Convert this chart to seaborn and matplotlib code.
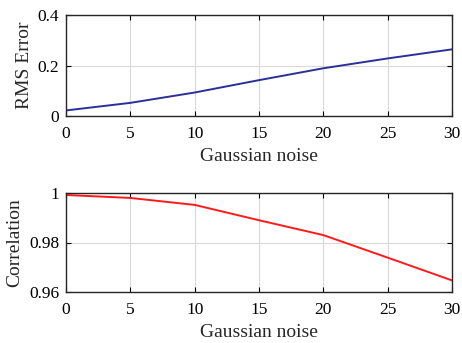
import matplotlib
matplotlib.use("Agg")
import matplotlib.pyplot as plt
import seaborn as sns
import pandas as pd

noise = [0, 5, 10, 15, 20, 25, 30]
rms_error = [0.022, 0.052, 0.093, 0.142, 0.189, 0.228, 0.264]
correlation = [0.9992, 0.998, 0.9952, 0.989, 0.983, 0.9739, 0.9647]

sns.set_theme(style="white")
plt.rcParams['font.family'] = ['Liberation Serif', 'DejaVu Serif']

df = pd.DataFrame({"noise": noise, "rms": rms_error, "corr": correlation})

fig = plt.figure(figsize=(4.62, 3.43), dpi=100)
ax1 = fig.add_axes([66/462, 1-116/343, (452-66)/462, (116-15)/343])
ax2 = fig.add_axes([66/462, 1-292/343, (452-66)/462, (292-193)/343])

sns.lineplot(data=df, x="noise", y="rms", ax=ax1, color="#2b2f9a", linewidth=1.4)
sns.lineplot(data=df, x="noise", y="corr", ax=ax2, color="#ff1a1a", linewidth=1.4)

for ax, ylab, ylim, yt, ytl, lp in [
    (ax1, "RMS Error", (0, 0.4), [0, 0.2, 0.4], ["0", "0.2", "0.4"], 3),
    (ax2, "Correlation", (0.96, 1.0), [0.96, 0.98, 1.0], ["0.96", "0.98", "1"], 4),
]:
    ax.set_xlim(0, 30)
    ax.set_ylim(*ylim)
    ax.set_xticks(noise)
    ax.set_xticklabels([str(v) for v in noise])
    ax.set_yticks(yt)
    ax.set_yticklabels(ytl)
    ax.set_xlabel("Gaussian noise", fontsize=14, labelpad=4.5)
    ax.set_ylabel(ylab, fontsize=14, labelpad=lp)
    ax.grid(True, color="#d9d9d9", linewidth=0.8)
    ax.tick_params(axis="x", pad=7)
    ax.tick_params(axis="y", pad=5)
    ax.tick_params(direction="in", length=3.5, width=0.8, labelsize=12.5, colors="black",
                   top=True, right=True, bottom=True, left=True)
    for s in ax.spines.values():
        s.set_visible(True)
        s.set_color("#262626")
        s.set_linewidth(1.0)

fig.savefig("out.png", dpi=100, facecolor="white")
